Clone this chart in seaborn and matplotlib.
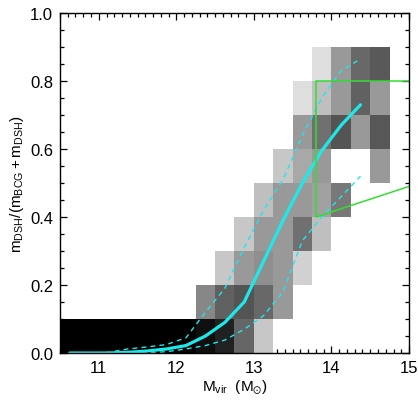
import numpy as np
import pandas as pd
import seaborn as sns
import matplotlib
matplotlib.use("Agg")
import matplotlib.pyplot as plt

# bin edges of the 2D histogram (virial mass, DSH fraction)
mass_edges = [10.5, 10.75, 11.0, 11.25, 11.5, 11.75, 12.0, 12.25, 12.5,
              12.75, 13.0, 13.25, 13.5, 13.75, 14.0, 14.25, 14.5, 14.75]
frac_edges = [0.0, 0.1, 0.2, 0.3, 0.4, 0.5, 0.6, 0.7, 0.8, 0.9, 1.0]

# grey level of each cell (0 = empty, 1 = black), one row per fraction bin
shade = [
    [1, 1, 1, 1, 1, 1, 1, 0.94, 0.87, 0.60, 0.22, 0, 0, 0, 0, 0, 0],
    [0, 0, 0, 0, 0, 0, 0, 0.47, 0.62, 0.67, 0.59, 0.40, 0, 0, 0, 0, 0],
    [0, 0, 0, 0, 0, 0, 0, 0, 0.22, 0.40, 0.44, 0.40, 0.18, 0, 0, 0, 0],
    [0, 0, 0, 0, 0, 0, 0, 0, 0, 0.22, 0.40, 0.40, 0.56, 0.25, 0, 0, 0],
    [0, 0, 0, 0, 0, 0, 0, 0, 0, 0, 0.25, 0.40, 0.40, 0.37, 0.53, 0, 0],
    [0, 0, 0, 0, 0, 0, 0, 0, 0, 0, 0, 0.22, 0.34, 0.40, 0, 0, 0.40],
    [0, 0, 0, 0, 0, 0, 0, 0, 0, 0, 0, 0, 0.40, 0.56, 0.67, 0.40, 0.66],
    [0, 0, 0, 0, 0, 0, 0, 0, 0, 0, 0, 0, 0.13, 0.25, 0.40, 0.62, 0.40],
    [0, 0, 0, 0, 0, 0, 0, 0, 0, 0, 0, 0, 0, 0.13, 0.40, 0.59, 0.65],
    [0, 0, 0, 0, 0, 0, 0, 0, 0, 0, 0, 0, 0, 0, 0, 0, 0],
]

# median and scatter curves
mass_mid = [10.625, 10.875, 11.125, 11.375, 11.625, 11.875, 12.125, 12.375,
            12.625, 12.875, 13.125, 13.375, 13.625, 13.875, 14.125, 14.375]
median = [0.0, 0.0, 0.0, 0.002, 0.006, 0.012, 0.022, 0.05,
          0.09, 0.15, 0.27, 0.39, 0.50, 0.595, 0.67, 0.73]
upper = [0.0, 0.0, 0.002, 0.012, 0.018, 0.025, 0.045, 0.12,
         0.19, 0.31, 0.42, 0.51, 0.64, 0.75, 0.83, 0.865]
lower = [0.0, 0.0, 0.0, 0.0, 0.0, 0.004, 0.012, 0.022,
         0.038, 0.07, 0.11, 0.18, 0.33, 0.40, 0.46, 0.52]

# observed region outline
box_x = [15.0, 13.8, 13.8, 15.0]
box_y = [0.8, 0.8, 0.4, 0.49]

# long table of cell centres for histplot
cells = []
for i, row in enumerate(shade):
    for j, v in enumerate(row):
        if v > 0:
            cells.append({"m": (mass_edges[j] + mass_edges[j + 1]) / 2,
                          "f": (frac_edges[i] + frac_edges[i + 1]) / 2,
                          "w": v})
cells = pd.DataFrame(cells)

sns.set_style("ticks", {"axes.edgecolor": "black", "xtick.color": "black",
                        "ytick.color": "black", "text.color": "black",
                        "axes.labelcolor": "black"})
plt.rcParams["font.family"] = ["Liberation Sans", "DejaVu Sans"]
plt.rcParams["mathtext.fontset"] = "custom"
plt.rcParams["mathtext.rm"] = "Liberation Sans"
plt.rcParams["mathtext.it"] = "Liberation Sans"

fig = plt.figure(figsize=(4.18, 4.06), dpi=100)
ax = fig.add_axes([0.1435, 0.128, 0.835, 0.8375])

sns.histplot(data=cells, x="m", y="f", weights="w",
             bins=[np.array(mass_edges), np.array(frac_edges)],
             cmap="gray_r", vmin=0, vmax=1, ax=ax)

curves = pd.DataFrame({"m": mass_mid, "median": median,
                       "upper": upper, "lower": lower})
cyan = "#1fe8e8"
sns.lineplot(data=curves, x="m", y="median", color=cyan, lw=2.3, ax=ax)
sns.lineplot(data=curves, x="m", y="upper", color=cyan, lw=1.0,
             linestyle=(0, (3.5, 3)), ax=ax)
sns.lineplot(data=curves, x="m", y="lower", color=cyan, lw=1.0,
             linestyle=(0, (3.5, 3)), ax=ax)

ax.plot(box_x, box_y, color="#33dd33", lw=1.1, clip_on=False)

ax.set_xlim(10.5, 15)
ax.set_ylim(0, 1.0)
ax.set_xticks([11, 12, 13, 14, 15])
ax.set_yticks([0.0, 0.2, 0.4, 0.6, 0.8, 1.0])
ax.set_yticklabels(["0.0", "0.2", "0.4", "0.6", "0.8", "1.0"])
ax.set_xticks(np.arange(10.5, 15.01, 0.1), minor=True)
ax.set_yticks(np.arange(0, 1.001, 0.05), minor=True)
ax.tick_params(which="both", direction="in", top=True, right=True,
               width=0.9, labelsize=12, colors="black")
ax.tick_params(which="major", length=5)
ax.tick_params(which="minor", length=2.8)
ax.tick_params(axis="x", pad=5)
ax.tick_params(axis="y", pad=5)
for s in ax.spines.values():
    s.set_linewidth(1.0)
    s.set_color("black")

ax.set_xlabel(r"$\mathregular{M_{vir}\ \ (M_{\odot})}$", fontsize=11, labelpad=2)
ax.set_ylabel(r"$\mathregular{m_{DSH}/(m_{BCG}+m_{DSH})}$", fontsize=11, labelpad=3)

fig.savefig("out.png", dpi=100)
